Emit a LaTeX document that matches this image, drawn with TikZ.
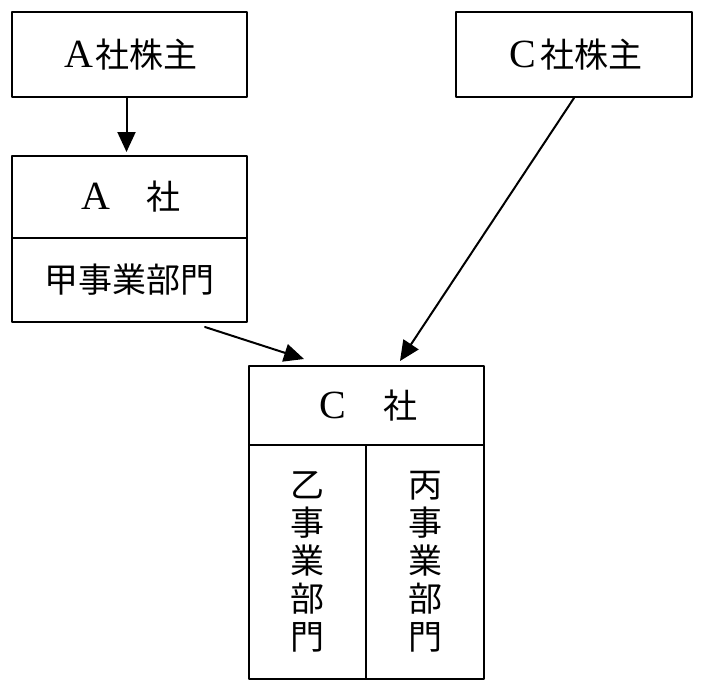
\documentclass[tikz,border=0pt]{standalone}
\usepackage{fontspec}
\setmainfont{Liberation Serif}
\newfontfamily\cjk{Noto Sans CJK JP}
\usetikzlibrary{arrows.meta}
\newcommand{\lat}[1]{\makebox[1em]{\rmfamily\fontsize{40}{38}\selectfont #1}}
\begin{document}
\begin{tikzpicture}[line cap=round,line join=round,>={Triangle[length=20pt,width=18pt]},x=1pt,y=-1pt,
	box/.style={draw,line width=2pt,inner sep=0pt,align=center,font=\cjk\fontsize{34}{38}\selectfont},
	link/.style={->,line width=2pt}]
		\useasboundingbox (0,0) rectangle (706,694);
		% shareholders
		\node[box,minimum width=235pt,minimum height=85pt] (ashu) at (129.5,54.5) {\lat{A}社株主};
		\node[box,minimum width=236pt,minimum height=85pt] (cshu) at (574,54.5) {\lat{C}社株主};
		% company A
		\node[box,minimum width=235pt,minimum height=82pt] (acom) at (129.5,197) {\lat{A}　社};
		\node[box,minimum width=235pt,minimum height=84pt] (akou) at (129.5,280) {甲事業部門};
		% company C
		\node[box,minimum width=235pt,minimum height=79pt] (ccom) at (366.5,405.5) {\lat{C}　社};
		\node[box,minimum width=117pt,minimum height=234pt] (cotsu) at (307.5,562) {乙\\事\\業\\部\\門};
		\node[box,minimum width=118pt,minimum height=234pt] (chei) at (425,562) {丙\\事\\業\\部\\門};
		% arrows
		\draw[link,shorten >=3pt] ([xshift=-3pt]ashu.south) -- ([xshift=-3pt]acom.north);
		\draw[link] ([xshift=-43pt,yshift=-4pt]akou.south east) -- ([xshift=56pt,yshift=6pt]ccom.north west);
		\draw[link] (cshu.south) -- ([xshift=33.5pt,yshift=4pt]ccom.north);
	\end{tikzpicture}
\end{document}
